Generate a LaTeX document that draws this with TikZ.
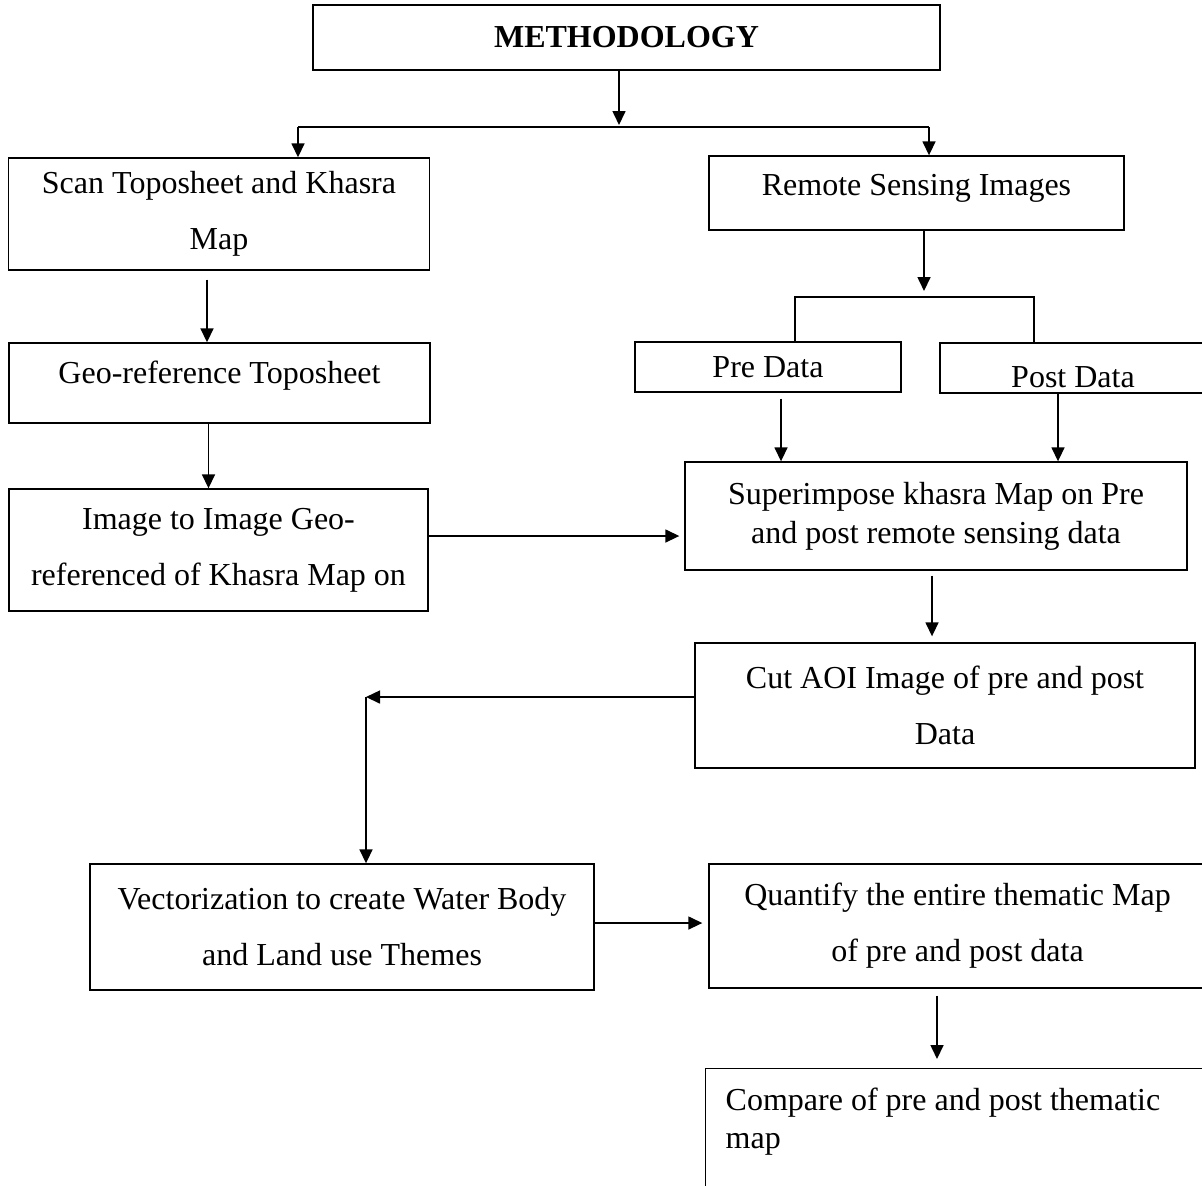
\documentclass[tikz,border=0pt]{standalone}
\usepackage{fontspec}
\setmainfont{Liberation Serif}
\usepackage{xcolor}
\usepackage{tikz}
\usetikzlibrary{arrows.meta}
\usetikzlibrary{calc}
\tikzstyle{stepbox}=[draw,line width=.7pt,align=center,inner sep=0pt]
\tikzstyle{flowhead}=[>/.tip={Triangle[length=7pt,width=6.5pt]}]
\tikzstyle{flow}=[line width=.8pt,flowhead,->]
\tikzstyle{forkline}=[line width=1.1pt]
\newcommand\wide{\fontsize{16}{28}\selectfont}
\newcommand\tight{\fontsize{16}{19.5}\selectfont}
\newcommand\sitline[2]{\raisebox{#1}[0pt][0pt]{#2}}

\begin{document}
\begin{tikzpicture}[x=.5pt,y=-.5pt,font=\wide]
	\useasboundingbox (0,0) rectangle (1202,1185);
	% boxes
	\node[stepbox,line width=1.1pt,minimum width=313.5pt,minimum height=32.5pt,font=\bfseries\wide] (method) at (626.5,37.5) {METHODOLOGY};
	\node[stepbox,minimum width=210.5pt,minimum height=56pt] (scan) at (219,214) {Scan Toposheet and Khasra\\Map};
	\node[stepbox,minimum width=207.5pt,minimum height=37pt] (remote) at (916.5,193) {\sitline{-1.25pt}{Remote Sensing Images}};
	\node[stepbox,minimum width=133pt,minimum height=25pt] (pre) at (768,367) {Pre Data};
	\node[stepbox,minimum width=133pt,minimum height=25pt] (post) at (1073,368) {\sitline{-9.75pt}{Post Data}};
	\node[stepbox,minimum width=210.5pt,minimum height=40pt] (geo) at (219.5,383) {\sitline{0pt}{Geo-reference Toposheet}};
	\node[stepbox,minimum width=209.5pt,minimum height=61pt] (image) at (218.5,550) {Image to Image Geo-\\referenced of Khasra Map on};
	\node[stepbox,minimum width=251pt,minimum height=54pt,font=\tight] (super) at (936,516) {Superimpose khasra Map on Pre\\and post remote sensing data};
	\node[stepbox,minimum width=250pt,minimum height=62.5pt] (cut) at (945,705.5) {Cut AOI Image of pre and post\\Data};
	\node[stepbox,minimum width=252pt,minimum height=63pt] (vector) at (342,927) {Vectorization to create Water Body\\and Land use Themes};
	\node[stepbox,minimum width=248.5pt,minimum height=62pt] (quant) at (957.5,926) {Quantify the entire thematic Map\\of pre and post data};
	\node[stepbox,anchor=north west,inner xsep=10pt,inner ysep=9.5pt] (compare) at (705,1068)
		{\begin{minipage}[t][70pt][t]{240pt}\fontsize{16}{19}\selectfont Compare of pre and post thematic\\map\end{minipage}};
	% joints
	\coordinate (hub) at (619,127);
	\coordinate (hubL) at (298,127);
	\coordinate (hubR) at (929,127);
	\coordinate (split) at (924,297);
	\coordinate (splitL) at (795,297);
	\coordinate (splitR) at (1034,297);
	\coordinate (turn) at (366,697);
	% connectors
	\draw[flow,shorten >=1pt] (method.south -| hub) -- (hub);
	\draw[forkline] (hubL) -- (hubR);
	\draw[flow] (hubL) -- (hubL |- scan.north);
	\draw[flow] (hubR) -- (hubR |- remote.north);
	\draw[flow,shorten >=3pt] (remote.south -| split) -- (split);
	\draw[forkline] (splitL |- pre.north) -- (splitL) -- (splitR) -- (splitR |- post.north);
	\draw[flow,shorten <=3pt] ([xshift=6.5pt]pre.south) -- ([xshift=6.5pt]pre.south |- super.north);
	\draw[flow] ([xshift=-7.5pt]post.south) -- ([xshift=-7.5pt]post.south |- super.north);
	\draw[flow,shorten <=4.5pt] ([xshift=-6pt]scan.south) -- ([xshift=-6pt]scan.south |- geo.north);
	\draw[flow] ([xshift=-5.5pt]geo.south) -- ([xshift=-5.5pt]geo.south |- image.north);
	\draw[flow,shorten >=2.5pt] ([yshift=7pt]image.east) -- ([yshift=7pt]image.east -| super.west);
	\draw[flow,shorten <=2.5pt,shorten >=3pt] ([xshift=-2pt]super.south) -- ([xshift=-2pt]super.south |- cut.north);
	\draw[flow] (cut.west |- turn) -- (turn);
	\draw[flow] (turn) -- (turn |- vector.north);
	\draw[flow,shorten >=3pt] ([yshift=2pt]vector.east) -- ([yshift=2pt]vector.east -| quant.west);
	\draw[flow,shorten <=3.5pt,shorten >=4.5pt] ([xshift=-10.25pt]quant.south) -- ([xshift=-10.25pt]quant.south |- compare.north);
\end{tikzpicture}
\end{document}
